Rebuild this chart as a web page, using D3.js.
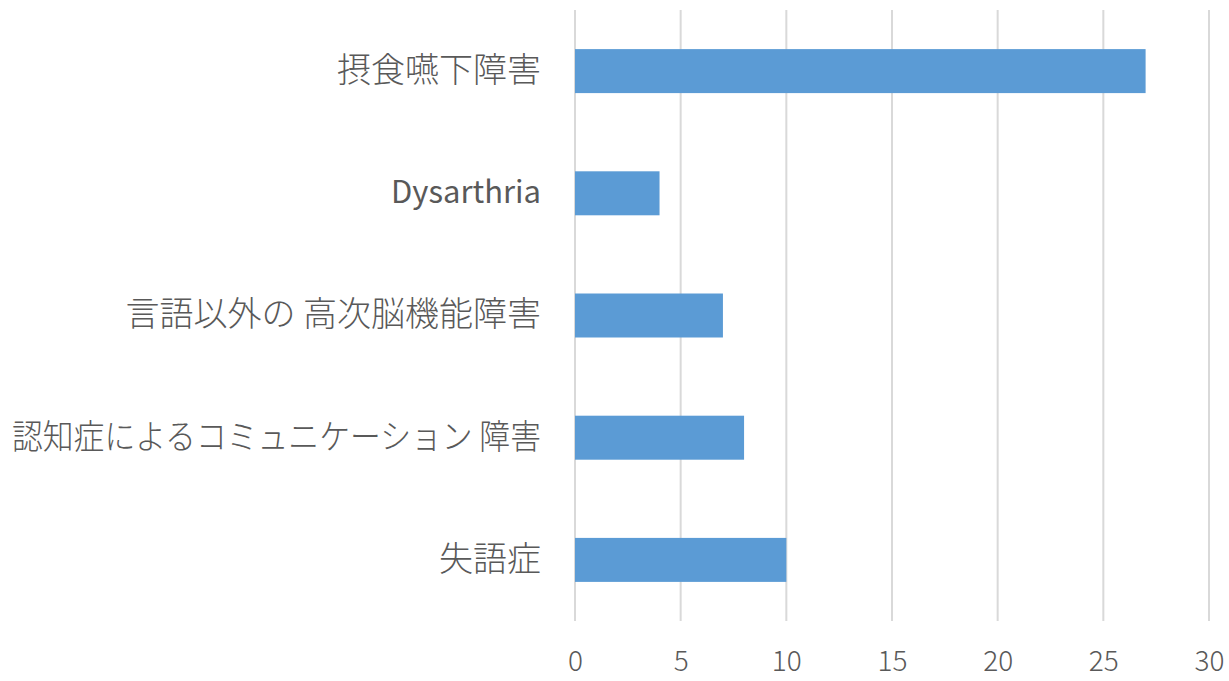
<!DOCTYPE html>
<html>
<head>
<meta charset="utf-8">
<script src="https://cdn.jsdelivr.net/npm/d3@7"></script>
<style>
	body { margin: 0; background: #fff; }
	#chart text { font-family: "Noto Sans CJK JP", "Noto Sans", sans-serif; fill: #595959; }
</style>
</head>
<body>
<svg id="chart" width="1229" height="681"></svg>
<script>
// Chart data
const categories = ['摂食嚥下障害', 'Dysarthria', '言語以外の 高次脳機能障害', '認知症によるコミュニケーション 障害', '失語症'];
const counts = [27, 4, 7, 8, 10];
const tickValues = [0, 5, 10, 15, 20, 25, 30];

let svg = d3.select('#chart');
let
	plotLeft = 575,
	plotRight = 1209,
	plotTop = 10,
	plotBottom = 621
;

const x = d3.scaleLinear().domain([0, 30]).range([plotLeft, plotRight]);
const y = d3.scaleBand().domain(categories).range([plotTop, plotBottom]).paddingInner(0.64).paddingOuter(0.32);

// vertical gridlines
svg.append('g')
	.selectAll('line')
	.data(tickValues)
	.enter()
	.append('line')
	.attr('x1', (d) => x(d))
	.attr('x2', (d) => x(d))
	.attr('y1', plotTop)
	.attr('y2', plotBottom)
	.attr('stroke', '#d9d9d9')
	.attr('stroke-width', 2);

// bars
svg.append('g')
	.selectAll('rect')
	.data(categories)
	.enter()
	.append('rect')
	.attr('x', x(0))
	.attr('y', (d) => y(d))
	.attr('width', (d, i) => x(counts[i]) - x(0))
	.attr('height', y.bandwidth())
	.attr('fill', '#5b9bd5');

// category labels
const labelRight = plotLeft - 34;
const isCJK = (d) => /[\u3000-\u9fff]/.test(d);
const yAxis = d3.axisLeft(y).tickSize(0).tickPadding(0);
let ya = svg.append('g').attr('transform', `translate(${labelRight},0)`).call(yAxis);
ya.select('.domain').remove();
ya.selectAll('text')
	.attr('font-size', (d) => isCJK(d) ? 34 : 31)
	.attr('font-weight', (d) => isCJK(d) ? 300 : 400)
	.attr('fill', '#595959')
	.each(function () {
		// squeeze labels that would run off the left edge
		let maxW = labelRight - 12;
		if (this.getComputedTextLength() > maxW) {
			d3.select(this).attr('textLength', maxW).attr('lengthAdjust', 'spacingAndGlyphs');
		}
	});

// x tick labels
const xAxis = d3.axisBottom(x).tickValues(tickValues).tickSize(0).tickPadding(0);
let xa = svg.append('g').attr('transform', `translate(0,${plotBottom + 30})`).call(xAxis);
xa.select('.domain').remove();
xa.selectAll('text').attr('font-size', 28).attr('font-weight', 300).attr('fill', '#595959');
</script>
</body>
</html>
